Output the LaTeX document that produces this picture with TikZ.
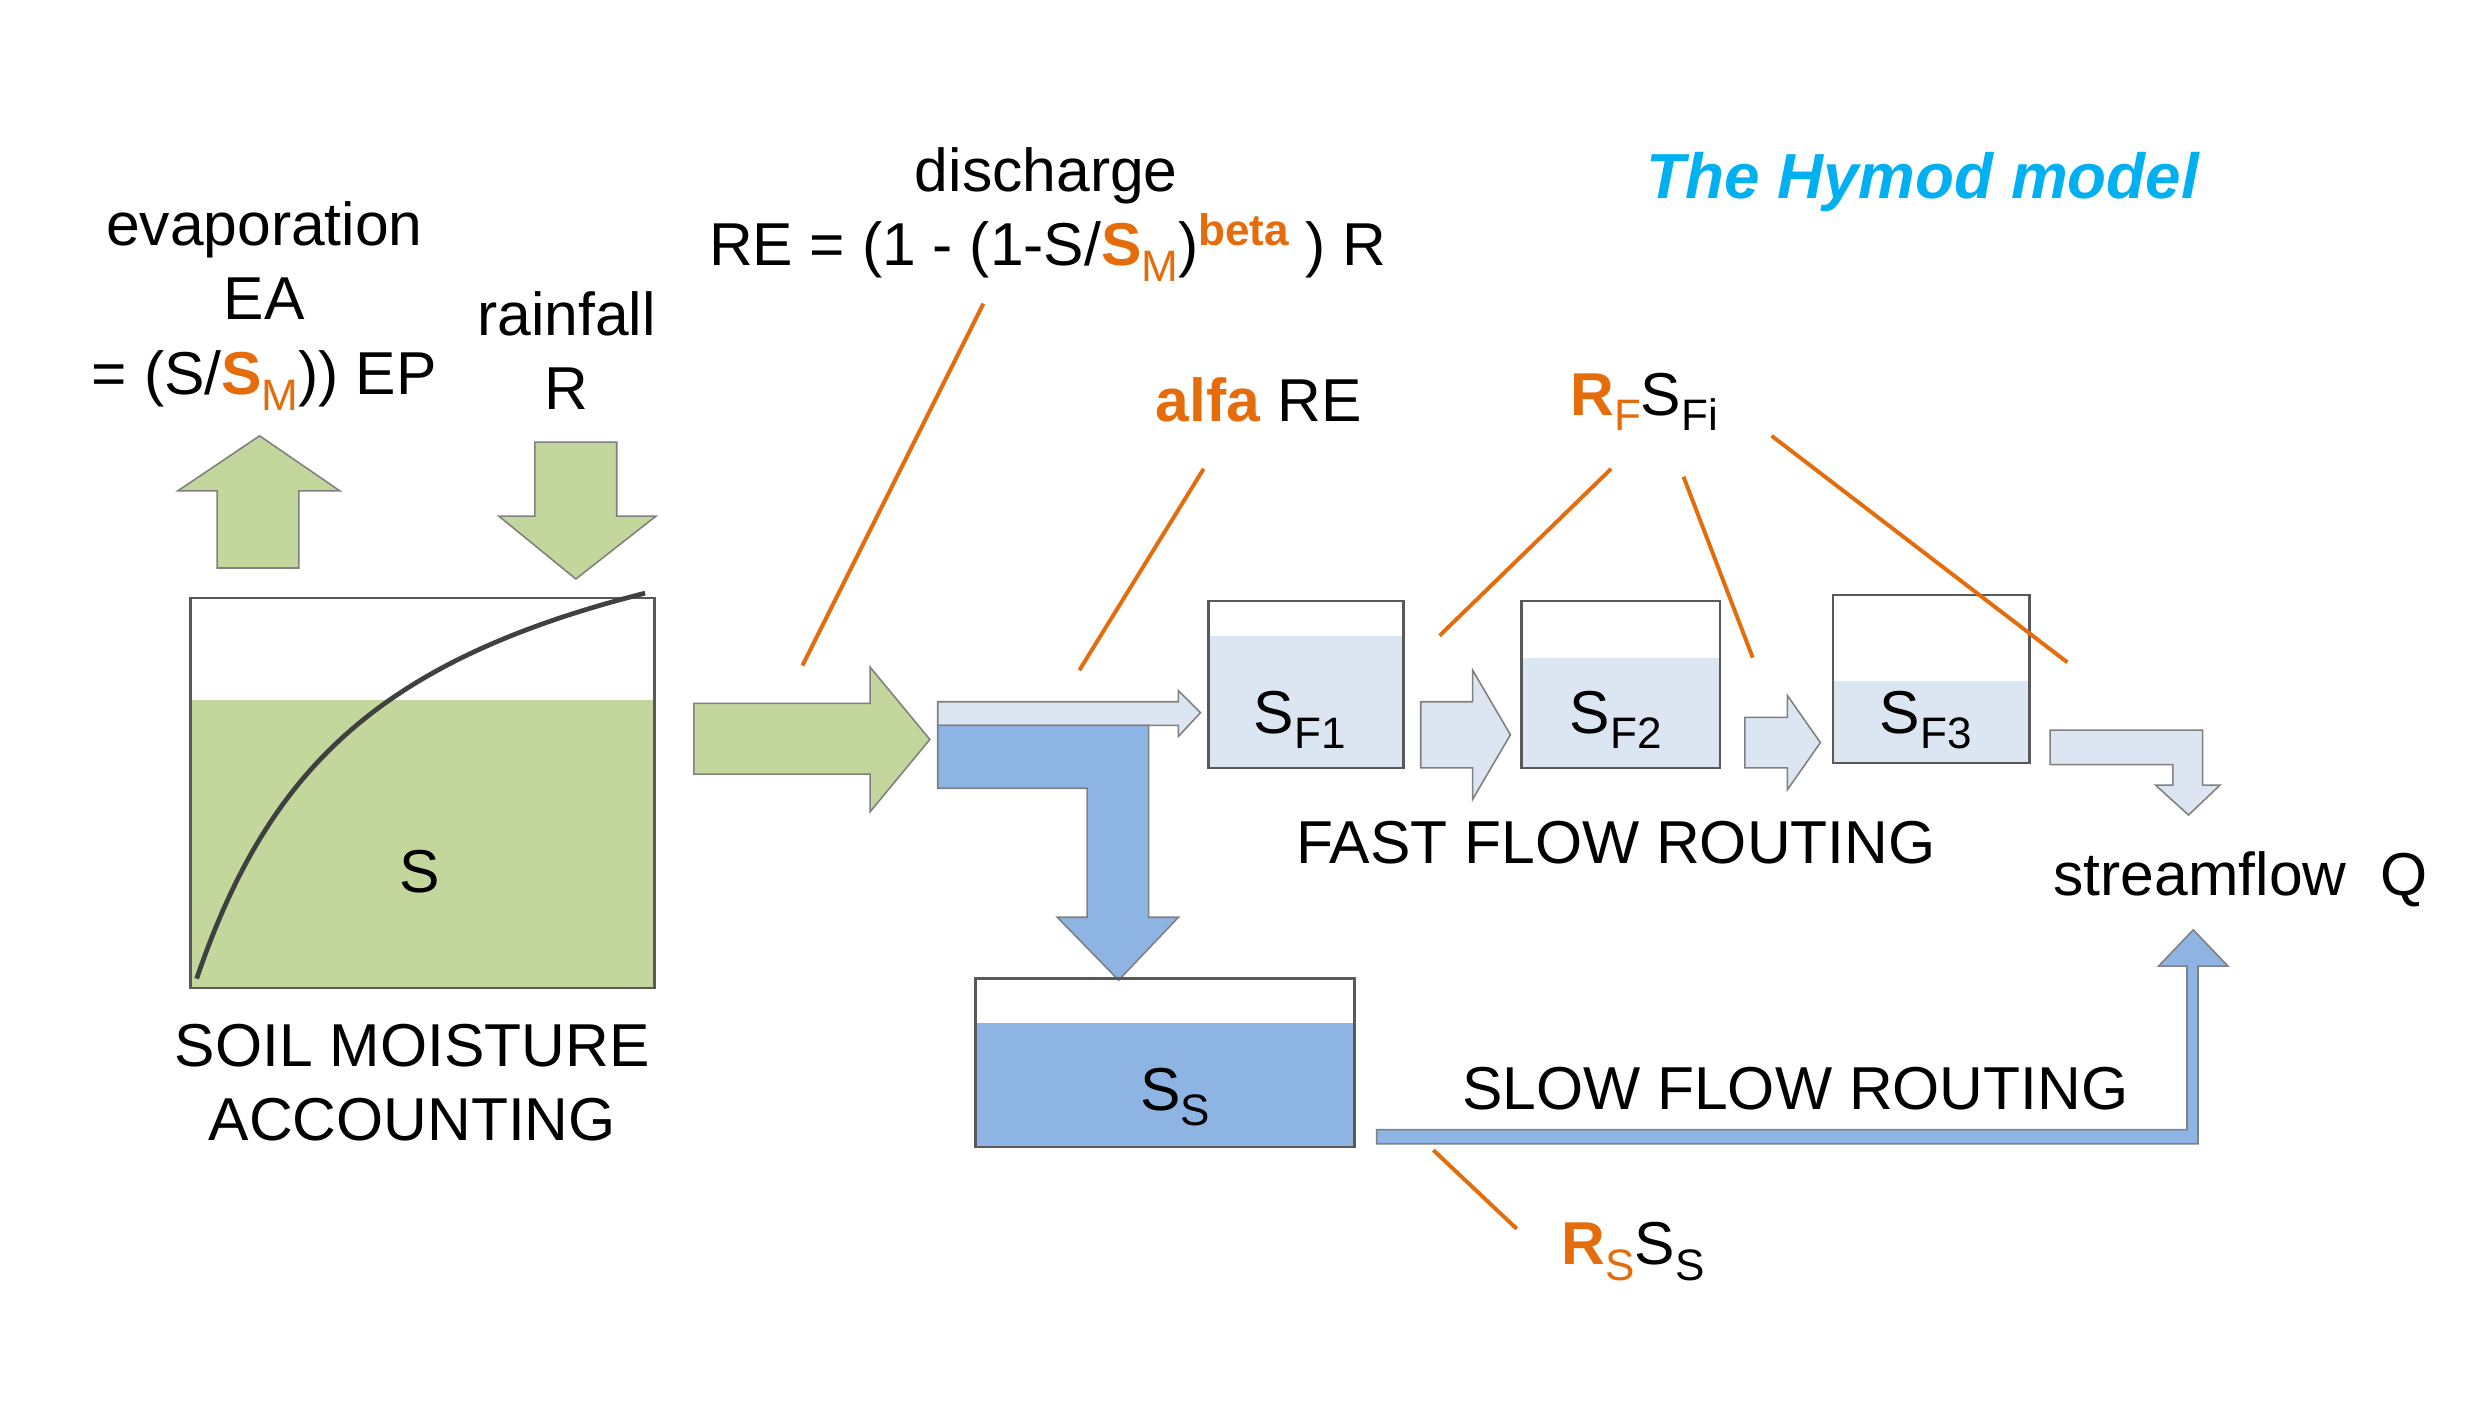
\documentclass[tikz,border=0pt]{standalone}
\usepackage{fontspec}
\setmainfont{Liberation Sans}
\definecolor{hyorange}{HTML}{E46C0A}
\definecolor{soilgreen}{HTML}{C3D69B}
\definecolor{fastblue}{HTML}{DCE6F2}
\definecolor{slowblue}{HTML}{8EB4E3}
\definecolor{titlecyan}{HTML}{00B0F0}
\newcommand{\lo}[1]{\raisebox{-0.25em}{\fontsize{28}{28}\selectfont #1}}
\newcommand{\hi}[1]{\raisebox{0.34em}{\fontsize{28}{28}\selectfont\bfseries #1}}
\newcommand{\SMax}{\textcolor{hyorange}{\textbf{S}\lo{M}}}
\begin{document}
\begin{tikzpicture}[x=1pt,y=-1pt,font=\fontsize{38.5}{46}\selectfont,
  lbl/.style={anchor=base,inner sep=0pt},
  tank/.style={draw=black!65,line width=1.5pt},
  flow/.style={draw=black!50,line width=1pt},
  lead/.style={draw=hyorange,line width=2.5pt}]
\useasboundingbox (0,0) rectangle (1568,891);
% soil moisture accounting
\fill[soilgreen] (121,445) rectangle (416,628);
\draw[tank] (121,380) rectangle (416,628);
\draw[black!75,line width=3pt] (125,622) .. controls (170,490) and (240,420) .. (410,377);
\node[lbl] (soil) at (267,567) {S};
\node[lbl] (sma1) at (262,678) {SOIL MOISTURE};
\node[lbl] (sma2) at (262,725) {ACCOUNTING};
% evaporation and rainfall
\draw[flow,fill=soilgreen] (138,361) -- (138,312) -- (113,312) -- (165,277) -- (216,312) -- (190,312) -- (190,361) -- cycle;
\draw[flow,fill=soilgreen] (340,281) -- (392,281) -- (392,328) -- (417,328) -- (366,368) -- (317,328) -- (340,328) -- cycle;
\node[lbl] (evap1) at (168,156) {evaporation};
\node[lbl] (evap2) at (168,203) {EA};
\node[lbl] (evap3) at (168,251) {= (S/\SMax)) EP};
\node[lbl] (rain1) at (360,213) {rainfall};
\node[lbl] (rain2) at (360,260) {R};
% discharge
\draw[flow,fill=soilgreen] (441,447) -- (553,447) -- (553,424) -- (591,470) -- (553,516) -- (553,492) -- (441,492) -- cycle;
\node[lbl] (dis1) at (665,122) {discharge};
\node[lbl] (dis2) at (666,169) {RE = (1 - (1-S/\SMax)\textcolor{hyorange}{\hi{beta}} ) R};
% split
\draw[flow,fill=fastblue] (596,446) -- (749,446) -- (749,439) -- (763,453) -- (749,468) -- (749,461) -- (596,461) -- cycle;
\draw[flow,fill=slowblue] (596,461) -- (730,461) -- (730,583) -- (749,583) -- (711,623) -- (672,583) -- (691,583) -- (691,501) -- (596,501) -- cycle;
\node[lbl] (alfa) at (800,268) {\textcolor{hyorange}{\textbf{alfa}} RE};
% fast flow routing
\fill[fastblue] (768,404) rectangle (892,488);
\draw[tank] (768,382) rectangle (892,488);
\fill[fastblue] (967,418) rectangle (1093,488);
\draw[tank] (967,382) rectangle (1093,488);
\fill[fastblue] (1165,433) rectangle (1290,485);
\draw[tank] (1165,378) rectangle (1290,485);
\node[lbl] (sf1) at (826,466) {S\lo{F1}};
\node[lbl] (sf2) at (1027,466) {S\lo{F2}};
\node[lbl] (sf3) at (1224,466) {S\lo{F3}};
\draw[flow,fill=fastblue] (903,446) -- (936,446) -- (936,426) -- (960,467) -- (936,508) -- (936,488) -- (903,488) -- cycle;
\draw[flow,fill=fastblue] (1109,456) -- (1136,456) -- (1136,442) -- (1157,472) -- (1136,502) -- (1136,488) -- (1109,488) -- cycle;
\draw[flow,fill=fastblue] (1303,464) -- (1400,464) -- (1400,499) -- (1411,499) -- (1391,518) -- (1370,499) -- (1381,499) -- (1381,486) -- (1303,486) -- cycle;
\node[lbl] (rf) at (1045,264) {\textcolor{hyorange}{\textbf{R}\lo{F}}S\lo{Fi}};
\node[lbl] (ffr) at (1027,549) {FAST FLOW ROUTING};
\node[lbl] (q) at (1424,569) {streamflow\ \ Q};
% slow flow routing
\fill[slowblue] (620,650) rectangle (861,729);
\draw[tank] (620,622) rectangle (861,729);
\node[lbl] (ss) at (747,706) {S\lo{S}};
\draw[flow,fill=slowblue] (875,718) -- (1390,718) -- (1390,614) -- (1372,614) -- (1394,591) -- (1416,614) -- (1397,614) -- (1397,727) -- (875,727) -- cycle;
\node[lbl] (sfr) at (1141,705) {SLOW FLOW ROUTING};
\node[lbl] (rs) at (1038,804) {\textcolor{hyorange}{\textbf{R}\lo{S}}S\lo{S}};
% leaders
\coordinate (d1) at (625,193); \coordinate (d2) at (510,423);
\coordinate (a1) at (765,298); \coordinate (a2) at (686,426);
\coordinate (f0) at (1024,298); \coordinate (f1) at (915,404);
\coordinate (g0) at (1070,303); \coordinate (g1) at (1114,418);
\coordinate (h0) at (1126,277); \coordinate (h1) at (1314,421);
\coordinate (s0) at (911,731); \coordinate (s1) at (964,781);
\draw[lead] (d1) -- (d2);
\draw[lead] (a1) -- (a2);
\draw[lead] (f0) -- (f1);
\draw[lead] (g0) -- (g1);
\draw[lead] (h0) -- (h1);
\draw[lead] (s0) -- (s1);
\node[lbl,text=titlecyan,font=\fontsize{40.5}{48}\selectfont\bfseries\itshape] (title) at (1222,126) {The Hymod model};
\end{tikzpicture}
\end{document}
